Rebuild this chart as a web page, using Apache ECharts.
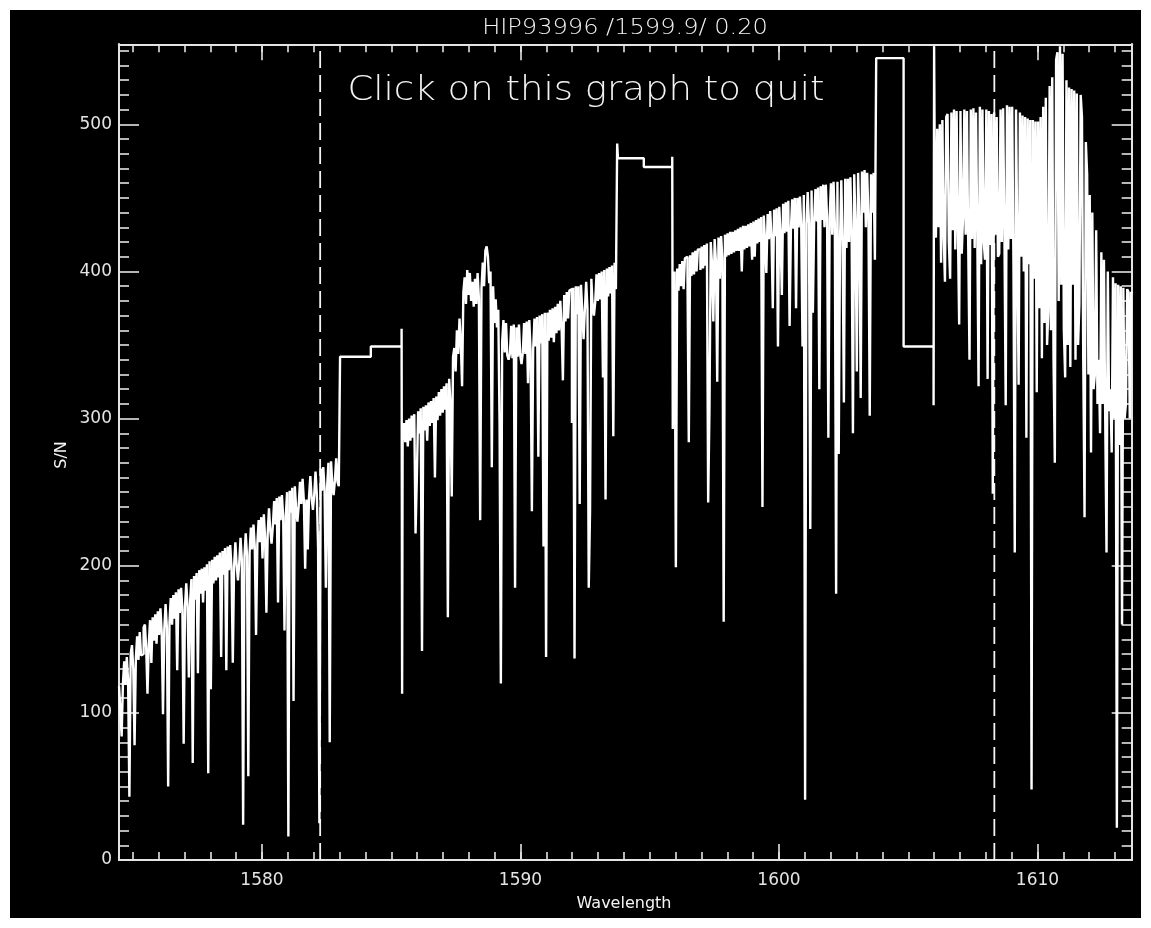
<!DOCTYPE html>
<html>
<head>
<meta charset="utf-8">
<title>HIP93996 S/N</title>
<script src="https://cdn.jsdelivr.net/npm/echarts@6/dist/echarts.min.js"></script>
<style>
  html, body { margin: 0; padding: 0; background: #ffffff; }
  #chart { position: absolute; left: 10px; top: 10px; width: 1131px; height: 908px; }
</style>
</head>
<body>
<div id="chart"></div>
<script>
// Axis ranges (nm, S/N)
const xMin = 1574.468, xMax = 1613.644;
const yMin = 0, yMax = 554.4;

// Tick positions and labels
const xMajorTicks = [1580, 1590, 1600, 1610];
const xMinorTicks = [1575, 1576, 1577, 1578, 1579, 1580, 1581, 1582, 1583, 1584, 1585, 1586, 1587, 1588, 1589,
  1590, 1591, 1592, 1593, 1594, 1595, 1596, 1597, 1598, 1599, 1600, 1601, 1602, 1603, 1604, 1605,
  1606, 1607, 1608, 1609, 1610, 1611, 1612, 1613];
const yMajorTicks = [0, 100, 200, 300, 400, 500];
const yMinorTicks = [10, 20, 30, 40, 50, 60, 70, 80, 90, 110, 120, 130, 140, 150, 160, 170, 180, 190,
  210, 220, 230, 240, 250, 260, 270, 280, 290, 310, 320, 330, 340, 350, 360, 370, 380, 390,
  410, 420, 430, 440, 450, 460, 470, 480, 490, 510, 520, 530, 540, 550];

// Pixel sampling of each detector chunk (nm per pixel)
const pixStep = 0.05;

// Chunk 1: 1574.47 - 1583.02 nm
const chunk1Start = 1574.47;
const chunk1SN = [
  118, 102, 84, 120, 135, 119, 138, 122, 43, 140,
  146, 130, 78, 137, 152, 136, 155, 139, 140, 158,
  160, 144, 113, 147, 163, 134, 165, 149, 167, 147,
  169, 153, 171, 155, 99, 157, 174, 158, 50, 161,
  178, 160, 180, 164, 182, 129, 184, 168, 185, 170,
  79, 172, 188, 173, 124, 176, 191, 66, 193, 177,
  195, 127, 197, 181, 198, 175, 199, 183, 201, 59,
  203, 116, 204, 188, 206, 190, 207, 192, 209, 138,
  210, 194, 212, 129, 213, 197, 214, 199, 134, 200,
  216, 200, 190, 202, 219, 204, 24, 206, 222, 207,
  57, 209, 226, 211, 228, 213, 153, 215, 231, 216,
  233, 205, 235, 219, 168, 222, 239, 224, 215, 227,
  244, 228, 246, 175, 247, 231, 248, 233, 156, 234,
  250, 16, 251, 236, 253, 108, 254, 239, 230, 241,
  257, 242, 259, 244, 198, 245, 211, 247, 261, 246,
  238, 248, 264, 249, 212, 25, 266, 251, 267, 252,
  185, 254, 270, 80, 271, 256, 248, 258, 273, 257, 254
];

// Sparse pixels between chunk 1 and chunk 2
const gap1Wave = [1583.02, 1584.21, 1585.40, 1585.42];
const gap1SN = [342, 349, 361, 113];

// Chunk 2: 1585.44 - 1593.74 nm
const chunk2Start = 1585.44;
const chunk2SN = [
  288, 297, 284, 299, 281, 300, 285, 302, 287, 303,
  222, 260, 305, 290, 307, 142, 308, 292, 309, 285,
  311, 295, 312, 297, 314, 260, 315, 299, 318, 302,
  320, 304, 322, 306, 324, 165, 327, 310, 247, 342,
  348, 332, 360, 344, 368, 352, 322, 386, 396, 378,
  401, 384, 399, 380, 393, 376, 395, 378, 399, 382,
  231, 388, 406, 390, 414, 417, 410, 392, 400, 267,
  390, 365, 381, 362, 374, 297, 120, 352, 367, 345,
  365, 343, 340, 344, 363, 341, 364, 185, 362, 342,
  364, 343, 337, 345, 365, 344, 366, 324, 367, 346,
  237, 347, 368, 349, 369, 274, 370, 351, 371, 213,
  372, 138, 372, 353, 374, 355, 375, 352, 376, 358,
  378, 360, 380, 362, 326, 384, 366, 386, 368, 387,
  388, 297, 389, 137, 390, 371, 390, 242, 391, 373,
  354, 374, 393, 375, 185, 237, 395, 377, 370, 379,
  398, 380, 399, 381, 400, 328, 401, 245, 402, 383,
  403, 385, 404, 288, 406, 388
];

// Sparse pixels between chunk 2 and chunk 3
const gap2Wave = [1593.74, 1593.77, 1594.77, 1595.87, 1595.89];
const gap2SN = [487, 477, 471, 478, 293];

// Chunk 3: 1595.91 - 1603.76 nm
const chunk3Start = 1595.91;
const chunk3SN = [
  388, 400, 199, 402, 387, 405, 390, 407, 388, 409,
  410, 395, 284, 411, 397, 413, 398, 414, 400, 415,
  415, 401, 417, 402, 418, 404, 419, 243, 306, 420,
  405, 366, 422, 407, 325, 423, 395, 424, 409, 162,
  425, 410, 426, 411, 427, 412, 427, 413, 428, 414,
  429, 414, 430, 400, 431, 415, 431, 416, 432, 417,
  433, 408, 434, 410, 435, 419, 436, 420, 437, 240,
  438, 421, 399, 439, 422, 441, 423, 375, 442, 424,
  443, 349, 444, 425, 384, 446, 426, 447, 427, 448,
  363, 428, 449, 429, 450, 375, 450, 430, 451, 431,
  349, 452, 41, 432, 454, 433, 225, 455, 372, 434,
  456, 434, 457, 320, 458, 435, 459, 430, 459, 436,
  287, 437, 460, 425, 461, 432, 181, 461, 276, 420,
  462, 418, 311, 463, 416, 463, 420, 464, 425, 290,
  466, 432, 332, 467, 436, 314, 468, 440, 469, 430,
  467, 438, 302, 466, 440, 467, 408
];

// Sparse pixels between chunk 3 and chunk 4
const gap3Wave = [1603.76, 1604.82, 1605.98, 1606.00];
const gap3SN = [545, 349, 309, 553];

// Chunk 4: 1606.02 - 1613.67 nm
const chunk4Start = 1606.02;
const chunk4SN = [
  490, 423, 497, 430, 500, 406, 503, 425, 393, 505,
  507, 420, 395, 508, 428, 510, 415, 509, 430, 364,
  509, 412, 437, 510, 425, 509, 418, 340, 510, 422,
  511, 416, 508, 428, 322, 512, 405, 510, 420, 408,
  510, 327, 509, 418, 507, 249, 508, 425, 505, 410,
  412, 510, 420, 511, 428, 309, 513, 415, 512, 422,
  512, 405, 209, 510, 415, 323, 508, 410, 506, 400,
  505, 287, 504, 405, 503, 48, 503, 395, 502, 318,
  502, 375, 505, 341, 512, 365, 518, 350, 373, 526,
  360, 532, 340, 270, 544, 549, 380, 553, 391, 548,
  360, 328, 530, 350, 525, 335, 524, 391, 523, 340,
  521, 350, 378, 520, 505, 340, 233, 488, 466, 330,
  452, 277, 440, 320, 330, 428, 310, 340, 290, 413,
  310, 408, 300, 209, 400, 305, 320, 277, 396, 300,
  392, 22, 391, 282, 390, 160, 389, 300, 310, 388,
  386, 300, 386, 385
];

// Reference wavelengths marked with dashed lines
const markerWave = [1582.25, 1608.33];

// Build [wavelength, S/N] pairs; each pair starts a flat histogram bin
function chunkPairs(start, values) {
  return values.map((v, i) => [+(start + i * pixStep).toFixed(3), v]);
}
function gapPairs(waves, values) {
  return waves.map((w, i) => [w, values[i]]);
}
const spectrum = [].concat(
  chunkPairs(chunk1Start, chunk1SN),
  gapPairs(gap1Wave, gap1SN),
  chunkPairs(chunk2Start, chunk2SN),
  gapPairs(gap2Wave, gap2SN),
  chunkPairs(chunk3Start, chunk3SN),
  gapPairs(gap3Wave, gap3SN),
  chunkPairs(chunk4Start, chunk4SN)
);

const fg = '#f4f4f4';
const axisColor = '#e4e4e4';
const labelFont = 'DejaVu Sans';
const plainNumber = v => String(v);

function xAxisDef(position, ticks, len, labels) {
  return {
    type: 'value', position: position, min: xMin, max: xMax,
    axisLine: { show: true, onZero: false, lineStyle: { color: axisColor, width: 2 } },
    axisTick: { show: true, inside: true, length: len, customValues: ticks,
      lineStyle: { color: axisColor, width: 1.6 } },
    axisLabel: labels ? { show: true, customValues: labels, formatter: plainNumber, color: axisColor,
      fontSize: 17, fontFamily: labelFont, margin: 12 } : { show: false },
    splitLine: { show: false }
  };
}
function yAxisDef(position, ticks, len, labels) {
  return {
    type: 'value', position: position, min: yMin, max: yMax,
    axisLine: { show: true, onZero: false, lineStyle: { color: axisColor, width: 2 } },
    axisTick: { show: true, inside: true, length: len, customValues: ticks,
      lineStyle: { color: axisColor, width: 1.6 } },
    axisLabel: labels ? { show: true, customValues: labels, formatter: plainNumber, color: axisColor,
      fontSize: 17, fontFamily: labelFont, margin: 7 } : { show: false },
    splitLine: { show: false }
  };
}

const markerSeries = markerWave.map(w => ({
  type: 'line',
  data: [[w, yMin], [w, yMax]],
  showSymbol: false,
  silent: true,
  lineStyle: { color: fg, width: 1.8, type: [17, 7] },
  z: 1
}));

const chart = echarts.init(document.getElementById('chart'), null, { renderer: 'canvas' });
chart.setOption({
  backgroundColor: '#000000',
  animation: false,
  grid: { left: 109, top: 34.3, right: 9.3, bottom: 58, outerBoundsMode: 'none' },
  xAxis: [
    xAxisDef('bottom', xMajorTicks, 16, xMajorTicks),
    xAxisDef('bottom', xMinorTicks, 8, null),
    xAxisDef('top', xMajorTicks, 16, null),
    xAxisDef('top', xMinorTicks, 8, null)
  ],
  yAxis: [
    yAxisDef('left', yMajorTicks, 20, yMajorTicks),
    yAxisDef('left', yMinorTicks, 10, null),
    yAxisDef('right', yMajorTicks, 20, null),
    yAxisDef('right', yMinorTicks, 10, null)
  ],
  series: markerSeries.concat([{
    type: 'line',
    step: 'end',
    data: spectrum,
    showSymbol: false,
    silent: true,
    clip: true,
    lineStyle: { color: '#ffffff', width: 2.4 },
    z: 2
  }]),
  graphic: [
    { type: 'text', x: 615, y: 18.7,
      style: { text: 'HIP93996 /1599.9/ 0.20', fill: fg, fontSize: 21.5, fontFamily: labelFont,
        fontWeight: 200, align: 'center', verticalAlign: 'middle' }, scaleX: 1.12 },
    { type: 'text', x: 576, y: 81.5,
      style: { text: 'Click on this graph to quit', fill: fg, fontSize: 34, fontFamily: labelFont,
        fontWeight: 200, align: 'center', verticalAlign: 'middle' }, scaleX: 1.09 },
    { type: 'text', x: 614, y: 893.7,
      style: { text: 'Wavelength', fill: fg, fontSize: 16, fontFamily: labelFont,
        align: 'center', verticalAlign: 'middle' } },
    { type: 'text', x: 52, y: 445, rotation: Math.PI / 2,
      style: { text: 'S/N', fill: fg, fontSize: 16, fontFamily: labelFont,
        align: 'center', verticalAlign: 'middle' } }
  ]
});
</script>
</body>
</html>
